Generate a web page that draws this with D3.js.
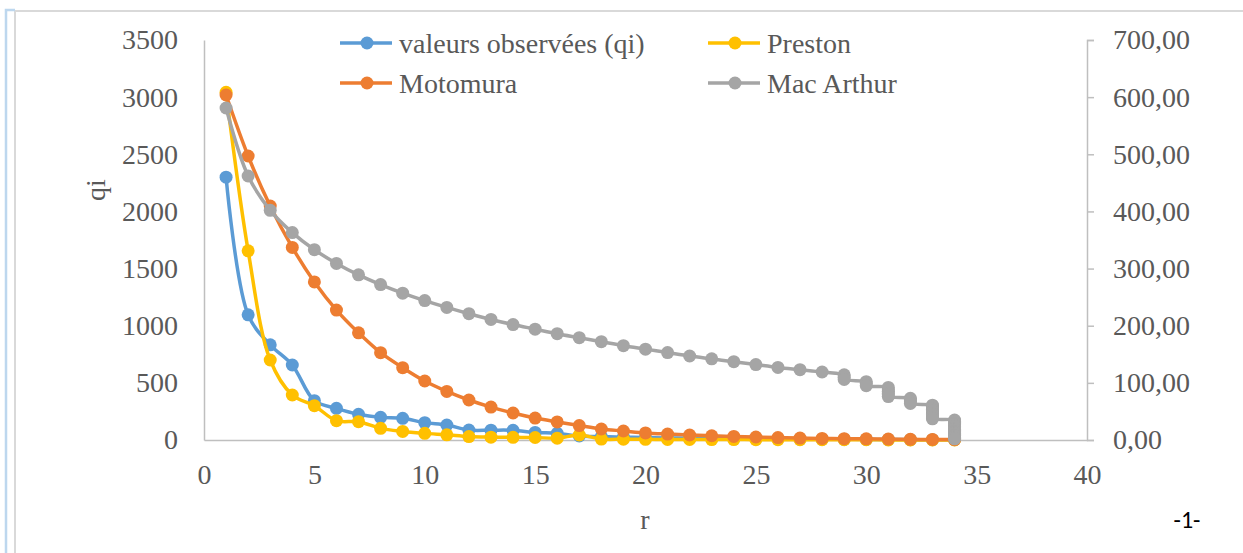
<!DOCTYPE html>
<html>
<head>
<meta charset="utf-8">
<script src="https://cdn.jsdelivr.net/npm/d3@7"></script>
<style>
  html, body { margin: 0; padding: 0; background: #fff; }
  svg { display: block; }
</style>
</head>
<body>
<div id="chart"></div>
<script>
  const RANKS = [1, 2, 3, 4, 5, 6, 7, 8, 9, 10, 11, 12, 13, 14, 15, 16, 17, 18, 19, 20, 21, 22, 23, 24, 25, 26, 27, 28, 29, 30, 31, 32, 33, 34];
  const OBSERVED = [2300, 1095, 833, 656, 344, 277, 225, 198, 190, 152, 131, 87, 86, 85, 66, 58, 35, 30, 25, 21, 18, 15, 13, 11, 10, 9, 8, 7, 6, 5, 4, 3, 2, 2];
  const PRESTON = [3042, 1655, 700, 394, 300, 169, 160, 102, 75, 58, 45, 30, 25, 23, 22, 16, 44, 8, 7, 6, 5, 5, 4, 4, 3, 3, 3, 2, 2, 2, 1, 1, 1, 1];
  const MOTOMURA = [3019, 2485, 2047, 1685, 1383, 1137, 938, 764, 633, 516, 425, 350, 288, 236, 192, 158, 126, 96, 79, 62, 52, 44, 37, 31, 26, 21, 17, 14, 12, 10, 8, 6, 5, 4];
  const MACARTHUR_RANKS = [1, 2, 3, 4, 5, 6, 7, 8, 9, 10, 11, 12, 13, 14, 15, 16, 17, 18, 19, 20, 21, 22, 23, 24, 25, 26, 27, 28,
    29, 29, 29, 30, 30, 30, 31, 31, 31, 31, 31, 31, 32, 32, 32, 32,
    33, 33, 33, 33, 33, 33, 33, 33, 33, 33, 33,
    34, 34, 34, 34, 34, 34, 34, 34, 34, 34, 34, 34, 34, 34, 34, 34, 34, 34, 34];
  const MACARTHUR = [581, 462, 402, 363, 333, 309, 289, 272, 257, 244, 232, 221, 211, 202, 194, 186, 179, 172, 165, 159, 153, 147, 142, 137, 132, 127, 123, 119,
    114, 110, 106, 102, 99, 95, 92, 88, 85, 82, 79, 76, 73, 70, 67, 64,
    61, 59, 56, 54, 51, 49, 46, 44, 42, 39, 37,
    35, 33, 31, 29, 27, 25, 23, 21, 19, 17, 15, 13, 12, 10, 8, 7, 5, 3, 2];
  const X_TICKS = [0, 5, 10, 15, 20, 25, 30, 35, 40];
  const LEFT_TICKS = [0, 500, 1000, 1500, 2000, 2500, 3000, 3500];
  const RIGHT_TICKS = [0, 100, 200, 300, 400, 500, 600, 700];

  const SERIES = [
    { name: "valeurs observées (qi)", color: "#5B9BD5", xs: RANKS, ys: OBSERVED, axis: "left" },
    { name: "Preston", color: "#FFC000", xs: RANKS, ys: PRESTON, axis: "left" },
    { name: "Motomura", color: "#ED7D31", xs: RANKS, ys: MOTOMURA, axis: "left" },
    { name: "Mac Arthur", color: "#A5A5A5", xs: MACARTHUR_RANKS, ys: MACARTHUR, axis: "right" },
  ];

  const width = 1243;
  const height = 553;
  const margin = { top: 40, right: 156, bottom: 113, left: 204 };
  const textColor = "#595959";
  const axisColor = "#BFBFBF";
  const font = "'Liberation Serif', 'Times New Roman', serif";
  const tickSize = 28;

  const svg = d3.select("#chart").append("svg").attr("width", width).attr("height", height);
  svg.append("rect").attr("width", width).attr("height", height).attr("fill", "#fff");

  // page frame remnants
  svg.append("path").attr("d", "M15,553 V11 H1243").attr("fill", "none").attr("stroke", "#D9D9D9").attr("stroke-width", 2);
  svg.append("path").attr("d", "M6,553 V10 H15").attr("fill", "none").attr("stroke", "#BDD7EE").attr("stroke-width", 2.5);

  const x = d3.scaleLinear().domain([0, 40]).range([margin.left, width - margin.right]);
  const yLeft = d3.scaleLinear().domain([0, 3500]).range([height - margin.bottom, margin.top]);
  const yRight = d3.scaleLinear().domain([0, 700]).range([height - margin.bottom, margin.top]);

  const fmtRight = (v) => d3.format(".2f")(v).replace(".", ",");

  // bottom axis
  svg
    .append("g")
    .attr("transform", `translate(0,${height - margin.bottom})`)
    .call(d3.axisBottom(x).tickValues(X_TICKS).tickSize(0).tickPadding(24))
    .call((g) => g.select(".domain").attr("stroke", axisColor).attr("stroke-width", 1.5))
    .call((g) => g.selectAll("text").attr("fill", textColor).attr("font-family", font).attr("font-size", tickSize));

  // left axis
  svg
    .append("g")
    .attr("transform", `translate(${margin.left},0)`)
    .call(d3.axisLeft(yLeft).tickValues(LEFT_TICKS).tickSize(0).tickPadding(26).tickFormat(d3.format("d")))
    .call((g) => g.select(".domain").attr("stroke", axisColor).attr("stroke-width", 1.5))
    .call((g) => g.selectAll("text").attr("fill", textColor).attr("font-family", font).attr("font-size", tickSize));

  // right axis
  svg
    .append("g")
    .attr("transform", `translate(${width - margin.right},0)`)
    .call(d3.axisRight(yRight).tickValues(RIGHT_TICKS).tickSize(7).tickPadding(19).tickFormat(fmtRight))
    .call((g) => g.select(".domain").attr("stroke", axisColor).attr("stroke-width", 1.5))
    .call((g) => g.selectAll("line").attr("stroke", axisColor).attr("stroke-width", 1.5))
    .call((g) => g.selectAll("text").attr("fill", textColor).attr("font-family", font).attr("font-size", tickSize));

  // series
  SERIES.forEach((s) => {
    const yScale = s.axis === "right" ? yRight : yLeft;
    const pts = s.xs.map((r, i) => [x(r), yScale(s.ys[i])]);
    const line = d3.line().curve(d3.curveCatmullRom.alpha(0.5));
    svg
      .append("path")
      .attr("d", line(pts))
      .attr("fill", "none")
      .attr("stroke", s.color)
      .attr("stroke-width", 3.5)
      .attr("stroke-linejoin", "round");
    svg
      .append("g")
      .selectAll("circle")
      .data(pts)
      .join("circle")
      .attr("cx", (d) => d[0])
      .attr("cy", (d) => d[1])
      .attr("r", 6.5)
      .attr("fill", s.color);
  });

  // axis titles
  svg
    .append("text")
    .attr("transform", "translate(105,190) rotate(-90)")
    .attr("text-anchor", "middle")
    .attr("fill", textColor)
    .attr("font-family", font)
    .attr("font-size", tickSize)
    .text("qi");

  svg
    .append("text")
    .attr("x", 645)
    .attr("y", 529)
    .attr("text-anchor", "middle")
    .attr("fill", textColor)
    .attr("font-family", font)
    .attr("font-size", tickSize)
    .text("r");

  svg
    .append("text")
    .attr("x", 1187)
    .attr("y", 528)
    .attr("text-anchor", "middle")
    .attr("fill", "#000")
    .attr("font-family", "Carlito, 'Liberation Sans', sans-serif")
    .attr("font-size", 24)
    .text("-1-");

  // legend
  const legendPos = [
    { x: 340, y: 43 },
    { x: 708, y: 43 },
    { x: 340, y: 83 },
    { x: 708, y: 83 },
  ];
  SERIES.forEach((s, i) => {
    const p = legendPos[i];
    const g = svg.append("g").attr("transform", `translate(${p.x},${p.y})`);
    g.append("line").attr("x1", 0).attr("x2", 52).attr("stroke", s.color).attr("stroke-width", 3.5);
    g.append("circle").attr("cx", 27).attr("r", 6.5).attr("fill", s.color);
    g.append("text")
      .attr("x", 59)
      .attr("dy", "0.35em")
      .attr("fill", textColor)
      .attr("font-family", font)
      .attr("font-size", tickSize)
      .text(s.name);
  });
</script>
</body>
</html>
